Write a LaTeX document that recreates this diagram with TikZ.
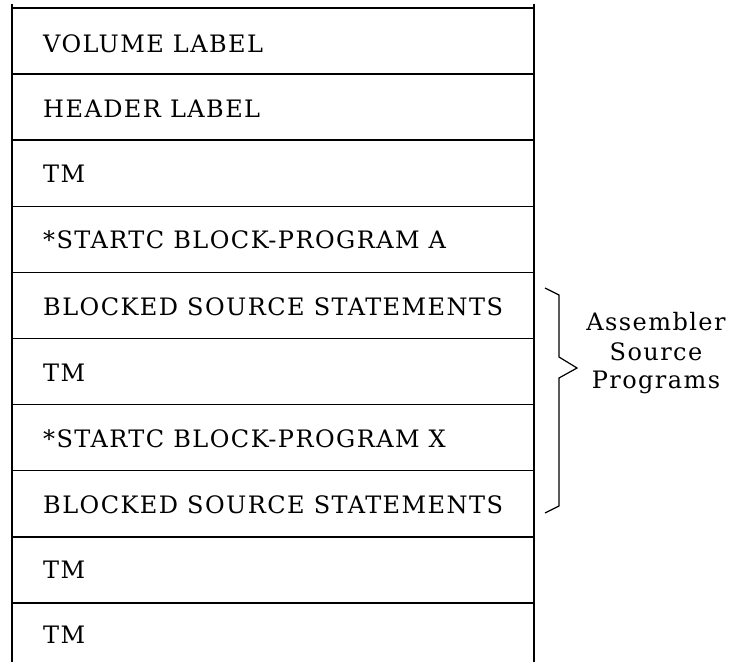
\documentclass[tikz,border=0pt]{standalone}
\usepackage{fontspec}
\setmainfont{DejaVu Serif}[LetterSpace=6]
\begin{document}
\begin{tikzpicture}[x=1pt,y=-1pt,
  entry/.style={anchor=base west, inner sep=0pt, font=\fontsize{24}{28}\selectfont},
  note/.style={anchor=base, inner sep=0pt, font=\fontsize{24}{28}\selectfont},
  rule/.style={line width=1.5pt}]
\useasboundingbox (0,0) rectangle (729,662);
% frame of the tape layout
\draw[rule] (12,4) -- (12,662) (534,4) -- (534,662);
\draw[rule] (12,8) -- (534,8) (12,74.1) -- (534,74.1) (12,140.2) -- (534,140.2)
  (12,206.3) -- (534,206.3) (12,272.4) -- (534,272.4) (12,338.5) -- (534,338.5)
  (12,404.6) -- (534,404.6) (12,470.7) -- (534,470.7) (12,536.8) -- (534,536.8)
  (12,602.9) -- (534,602.9);
\node[entry] at (43,52) (vol) {VOLUME LABEL};
\node[entry] at (43,117) (hdr) {HEADER LABEL};
\node[entry] at (43,182) (tm1) {TM};
\node[entry] at (43,248) (stA) {*STARTC BLOCK-PROGRAM A};
\node[entry] at (43,315) (bsA) {BLOCKED SOURCE STATEMENTS};
\node[entry] at (43,381) (tm2) {TM};
\node[entry] at (43,447) (stX) {*STARTC BLOCK-PROGRAM X};
\node[entry] at (43,513) (bsX) {BLOCKED SOURCE STATEMENTS};
\node[entry] at (43,578) (tm3) {TM};
\node[entry] at (43,643) (tm4) {TM};
% brace
\coordinate (btop) at (545,288);
\coordinate (btip) at (577,368);
\coordinate (bbot) at (545,513);
\draw[line width=1.2pt] (btop) -- (559,295) -- (559,357) -- (btip) -- (559,378)
  -- (559,506) -- (bbot);
\node[note] at (656,330) (asm) {Assembler};
\node[note] at (656,360) (src) {Source};
\node[note] at (656,388) (prg) {Programs};
\end{tikzpicture}
\end{document}
